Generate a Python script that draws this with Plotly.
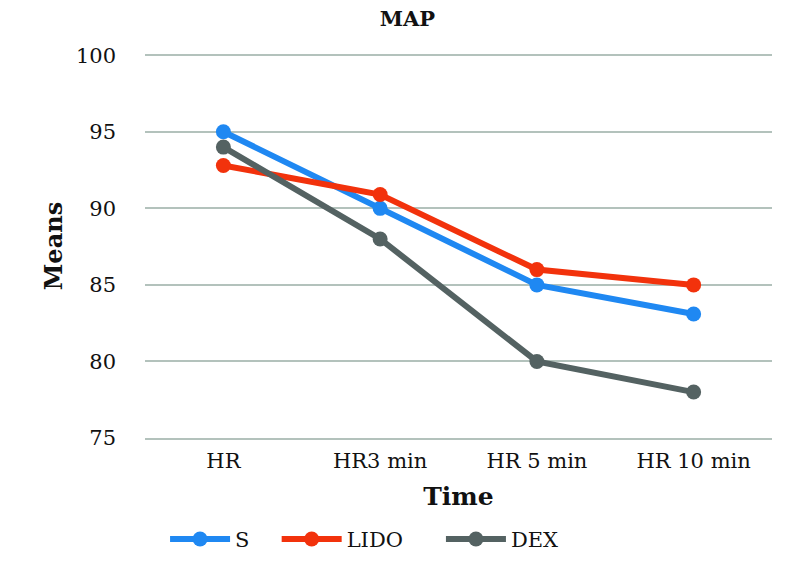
import plotly.graph_objects as go

categories = ["HR", "HR3 min", "HR 5 min", "HR 10 min"]
s_vals = [95.0, 90.0, 85.0, 83.1]
lido_vals = [92.8, 90.9, 86.0, 85.0]
dex_vals = [94.0, 88.0, 80.0, 78.0]

series = [
    ("S", s_vals, "#1f88f2", "legend", 0.032),
    ("LIDO", lido_vals, "#f2320c", "legend2", 0.21),
    ("DEX", dex_vals, "#546262", "legend3", 0.472),
]

FONT = "DejaVu Serif"
fig = go.Figure()
for name, vals, color, leg, lx in series:
    fig.add_trace(go.Scatter(
        x=categories, y=vals, name=name, mode="lines+markers",
        line=dict(color=color, width=6),
        marker=dict(color=color, size=15),
        legend=leg,
    ))

legend_common = dict(orientation="h", yanchor="middle", yref="container", y=0.052,
                     xanchor="left",
                     font=dict(family=FONT, size=21, color="#111"),
                     bgcolor="rgba(0,0,0,0)", itemwidth=60)
layout_legends = {}
for name, vals, color, leg, lx in series:
    layout_legends[leg] = dict(legend_common, x=lx)

fig.update_layout(
    width=794, height=569,
    margin=dict(l=145, r=22, t=54, b=131, autoexpand=False),
    paper_bgcolor="white", plot_bgcolor="white",
    font=dict(family=FONT, size=21, color="#111"),
    title=dict(text="<b>MAP</b>", x=0.513, xanchor="center", y=0.967, yanchor="middle",
               font=dict(family=FONT, size=21, color="#111")),
    xaxis=dict(type="category", range=[-0.5, 3.5], showgrid=False,
               showline=True, linecolor="#b3c2bc", linewidth=2,
               ticklabelstandoff=3, automargin=False,
               tickfont=dict(family=FONT, size=21, color="#111"),
               title=dict(text="<b>Time</b>", font=dict(family=FONT, size=25, color="#111"), standoff=15)),
    yaxis=dict(range=[75, 100.08], tickvals=[75, 80, 85, 90, 95, 100], showgrid=True,
               gridcolor="#b3c2bc", gridwidth=2, automargin=False,
               zeroline=False, showline=False, ticklabelstandoff=28,
               tickfont=dict(family=FONT, size=21, color="#111"),
               title=dict(text="<b>Means</b>", font=dict(family=FONT, size=24, color="#111"), standoff=6)),
    showlegend=True,
    **layout_legends,
)
fig.write_html("out.html")
